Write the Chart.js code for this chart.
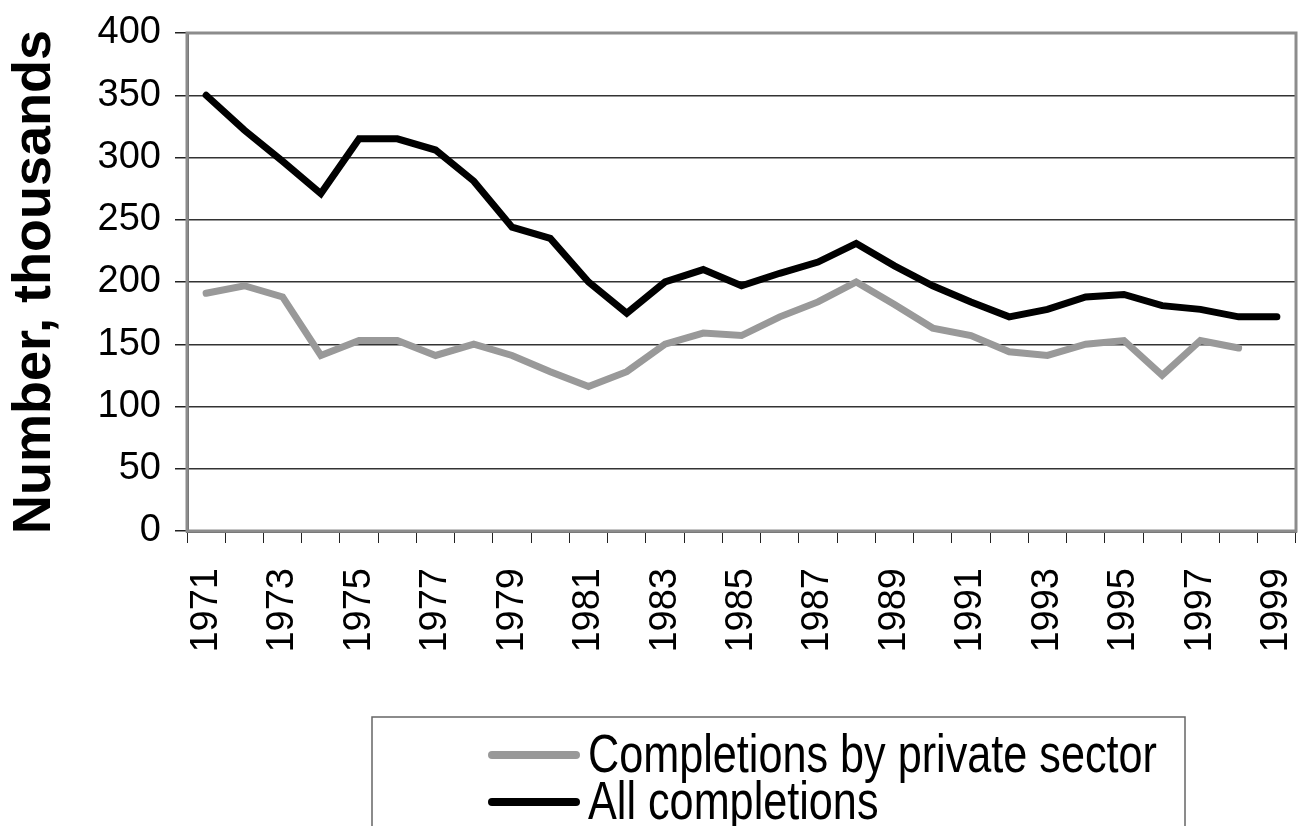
<!DOCTYPE html>
<html>
<head>
<meta charset="utf-8">
<script src="https://cdn.jsdelivr.net/npm/chart.js@4/dist/chart.umd.min.js"></script>
<style>
  html, body { margin: 0; padding: 0; background: #fff; }
  #wrap { width: 1298px; height: 826px; position: relative; }
</style>
</head>
<body>
<div id="wrap"><canvas id="chart"></canvas></div>
<script>
const years = ["1971", "1972", "1973", "1974", "1975", "1976", "1977", "1978", "1979", "1980",
               "1981", "1982", "1983", "1984", "1985", "1986", "1987", "1988", "1989", "1990",
               "1991", "1992", "1993", "1994", "1995", "1996", "1997", "1998", "1999"];

// thousands of dwellings
const privateSector = [191, 197, 188, 141, 153, 153, 141, 150, 141, 128,
                       116, 128, 150, 159, 157, 172, 184, 200, 182, 163,
                       157, 144, 141, 150, 153, 125, 153, 147, null];
const allCompletions = [350, 322, 297, 271, 315, 315, 306, 281, 244, 235,
                        200, 175, 200, 210, 197, 207, 216, 231, 213, 197,
                        184, 172, 178, 188, 190, 181, 178, 172, 172];

const FONT = "'Liberation Sans', Arial, sans-serif";

// grey frame round the plot area
const framePlugin = {
    id: "frame",
    beforeDatasetsDraw(chart) {
        const { ctx, chartArea: a } = chart;
        ctx.save();
        ctx.strokeStyle = "#8c8c8c";
        ctx.lineWidth = 3;
        ctx.strokeRect(a.left, a.top, a.right - a.left, a.bottom - a.top);
        ctx.restore();
    }
};

// boxed legend under the axis, one entry per row
const boxLegend = {
    id: "boxLegend",
    afterDraw(chart) {
        const ctx = chart.ctx;
        const boxX = 372, boxY = 717, boxW = 813, boxH = 120;
        ctx.save();
        ctx.strokeStyle = "#666";
        ctx.lineWidth = 1.5;
        ctx.strokeRect(boxX, boxY, boxW, boxH);

        chart.data.datasets.forEach((ds, i) => {
            const y = 755 + i * 47;
            ctx.strokeStyle = ds.borderColor;
            ctx.lineWidth = 8;
            ctx.lineCap = "round";
            ctx.beginPath();
            ctx.moveTo(492, y);
            ctx.lineTo(576, y);
            ctx.stroke();

            ctx.save();
            ctx.translate(588, y);
            ctx.scale(0.815, 1);
            ctx.fillStyle = "#000";
            ctx.font = "53px " + FONT;
            ctx.textBaseline = "middle";
            ctx.fillText(ds.label, 0, 2);
            ctx.restore();
        });
        ctx.restore();
    }
};

const canvas = document.getElementById("chart");

new Chart(canvas, {
    type: "line",
    data: {
        labels: years,
        datasets: [
            {
                label: "Completions by private sector",
                data: privateSector,
                borderColor: "#999999",
                backgroundColor: "#999999",
                borderWidth: 7,
                pointRadius: 0,
                borderCapStyle: "round",
                tension: 0,
            },
            {
                label: "All completions",
                data: allCompletions,
                borderColor: "#000000",
                backgroundColor: "#000000",
                borderWidth: 7,
                pointRadius: 0,
                borderCapStyle: "round",
                tension: 0,
            },
        ],
    },
    options: {
        responsive: true,
        maintainAspectRatio: false,
        animation: false,
        layout: { padding: { top: 33, right: 2, left: 0, bottom: 155 } },
        plugins: {
            legend: { display: false },
            tooltip: { enabled: false },
        },
        scales: {
            x: {
                offset: true,
                afterFit(scale) {
                    scale.height = 140;
                    scale.paddingLeft = 0;
                    scale.paddingRight = 0;
                },
                grid: {
                    offset: true,
                    drawOnChartArea: false,
                    drawTicks: true,
                    tickLength: 12,
                    tickColor: "#222",
                },
                border: { color: "#666", width: 3 },
                ticks: {
                    autoSkip: false,
                    minRotation: 90,
                    maxRotation: 90,
                    padding: 25,
                    color: "#000",
                    font: { family: FONT, size: 38 },
                    callback: (val, i) => (i % 2 === 0 ? years[i] : ""),
                },
            },
            y: {
                min: 0,
                max: 400,
                afterFit(scale) {
                    scale.width = 187;
                    scale.paddingTop = 0;
                    scale.paddingBottom = 0;
                },
                grid: {
                    color: "#333",
                    lineWidth: 1.5,
                    tickLength: 12,
                    tickColor: "#222",
                },
                border: { color: "#666", width: 3 },
                ticks: {
                    stepSize: 50,
                    padding: 14,
                    color: "#000",
                    font: { family: FONT, size: 38 },
                },
                title: {
                    display: true,
                    text: "Number, thousands",
                    color: "#000",
                    padding: { top: 3, bottom: 0 },
                    font: { family: FONT, size: 54, weight: "bold" },
                },
            },
        },
    },
    plugins: [framePlugin, boxLegend],
});
</script>
</body>
</html>
